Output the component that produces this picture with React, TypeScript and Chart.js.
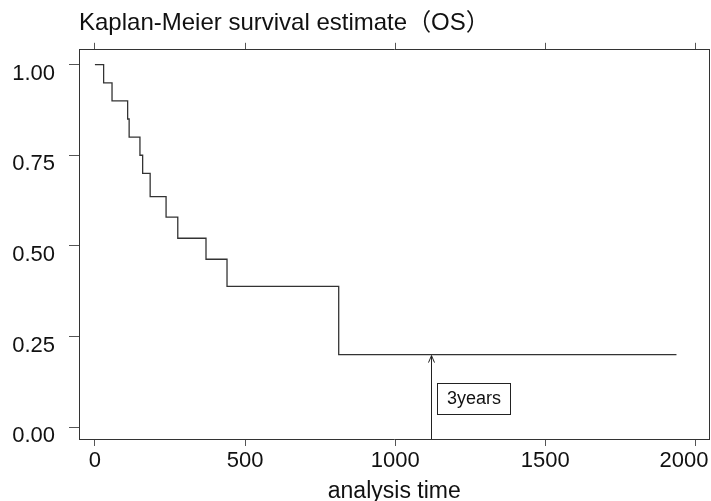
import React, { useEffect, useRef } from 'react';
import { Chart, registerables } from 'chart.js';

Chart.register(...registerables);

// ---- data ----
const TITLE = 'Kaplan-Meier survival estimate（OS）';
const X_TITLE = 'analysis time';
const eventTimes = [0, 29, 57, 109, 114, 150, 159, 184, 237, 276, 370, 440, 812, 1937];
const survival = [1.0, 0.95, 0.9, 0.85, 0.8, 0.75, 0.7, 0.636, 0.579, 0.521, 0.463, 0.388, 0.2, 0.2];
const xTickValues = [0, 500, 1000, 1500, 2000];
const yTickValues = [0, 0.25, 0.5, 0.75, 1];
const MARK_TIME = 1120;
const MARK_SURV = 0.2;
const MARK_LABEL = '3years';
const MARK_LABEL_Y = 0.08;

const X_MIN = -53;
const X_MAX = 2047;
const Y_MIN = -0.033;
const Y_MAX = 1.041;

const FONT = '"Liberation Sans", Arial, "Noto Sans CJK JP", sans-serif';

// keep the last x tick label inside the canvas, as in the reference
const lastLabelPlugin = {
  id: 'lastLabelPlugin',
  beforeDraw(chart: any) {
    const xs = chart.scales.x;
    if (!xs) return;
    const items = xs.getLabelItems(chart.chartArea);
    if (!items || !items.length) return;
    const last = items[items.length - 1];
    last.options.textAlign = 'right';
    last.options.translation[0] = chart.chartArea.right - 1;
  },
};

const markPlugin = {
  id: 'markPlugin',
  afterDatasetsDraw(chart: any) {
    const { ctx, scales, chartArea } = chart;
    const x = scales.x;
    const y = scales.y;
    const px = Math.round(x.getPixelForValue(MARK_TIME)) + 0.5;
    const top = y.getPixelForValue(MARK_SURV);
    const bottom = chartArea.bottom;
    ctx.save();
    ctx.strokeStyle = '#222';
    ctx.lineWidth = 1;
    ctx.beginPath();
    ctx.moveTo(px, bottom);
    ctx.lineTo(px, top + 1);
    ctx.stroke();
    ctx.beginPath();
    ctx.moveTo(px - 3, top + 8);
    ctx.lineTo(px, top + 1);
    ctx.lineTo(px + 3, top + 8);
    ctx.stroke();
    ctx.font = '18px ' + FONT;
    const tw = ctx.measureText(MARK_LABEL).width;
    const cy = y.getPixelForValue(MARK_LABEL_Y);
    const bw = Math.round(tw + 19);
    const bh = 31;
    const bx = Math.round(px + 5) + 0.5;
    const by = Math.round(cy - bh / 2) + 0.5;
    ctx.fillStyle = '#fff';
    ctx.fillRect(bx, by, bw, bh);
    ctx.strokeRect(bx, by, bw, bh);
    ctx.fillStyle = '#111';
    ctx.textAlign = 'center';
    ctx.textBaseline = 'middle';
    ctx.fillText(MARK_LABEL, bx + bw / 2, cy + 1);
    ctx.restore();
  },
};

export default function App() {
  const ref = useRef<HTMLCanvasElement>(null);

  useEffect(() => {
    document.body.style.margin = '0';
    const canvas = ref.current;
    if (!canvas) return;
    const points = eventTimes.map((t, i) => ({ x: t, y: survival[i] }));
    const setXTicks = (scale: any) => {
      scale.ticks = xTickValues.map((v) => ({ value: v }));
    };
    const setYTicks = (scale: any) => {
      scale.ticks = yTickValues.map((v) => ({ value: v }));
    };
    const chart = new Chart(canvas, {
      type: 'line',
      data: {
        datasets: [
          {
            data: points,
            stepped: 'before',
            borderColor: '#333',
            borderWidth: 1.3,
            pointRadius: 0,
            fill: false,
            tension: 0,
          },
        ],
      },
      plugins: [markPlugin, lastLabelPlugin],
      options: {
        responsive: false,
        animation: false,
        events: [],
        layout: { autoPadding: false, padding: { left: 0, right: 1.5, top: 0, bottom: 0 } },
        plugins: {
          legend: { display: false },
          tooltip: { enabled: false },
          title: {
            display: true,
            text: TITLE,
            align: 'start',
            fullSize: false,
            color: '#111',
            font: { family: FONT, size: 24, weight: 'normal' },
            padding: { top: 9, bottom: 5 },
          },
        },
        scales: {
          x: {
            type: 'linear',
            position: 'bottom',
            min: X_MIN,
            max: X_MAX,
            afterBuildTicks: setXTicks,
            afterFit: (scale: any) => {
              scale.height = 62;
              scale.paddingLeft = 0;
              scale.paddingRight = 0;
            },
            grid: { drawOnChartArea: false, drawTicks: true, tickLength: 7, color: '#555' },
            border: { display: true, color: '#333', width: 1 },
            ticks: {
              color: '#111',
              padding: 2,
              maxRotation: 0,
              font: { family: FONT, size: 22 },
              callback: (v: any) => String(v),
            },
            title: {
              display: true,
              text: X_TITLE,
              color: '#111',
              font: { family: FONT, size: 23, lineHeight: 0.8 },
              padding: { top: 0, bottom: 0 },
            },
          },
          xTop: {
            type: 'linear',
            position: 'top',
            min: X_MIN,
            max: X_MAX,
            afterBuildTicks: setXTicks,
            afterFit: (scale: any) => {
              scale.height = 7;
            },
            grid: { drawOnChartArea: false, drawTicks: true, tickLength: 7, color: '#555' },
            border: { display: true, color: '#333', width: 1 },
            ticks: { display: false },
          },
          y: {
            type: 'linear',
            position: 'left',
            min: Y_MIN,
            max: Y_MAX,
            afterBuildTicks: setYTicks,
            afterFit: (scale: any) => {
              scale.width = 79;
              scale.paddingTop = 0;
              scale.paddingBottom = 0;
            },
            grid: { drawOnChartArea: false, drawTicks: true, tickLength: 10, color: '#555' },
            border: { display: true, color: '#333', width: 1 },
            ticks: {
              color: '#111',
              padding: 14,
              labelOffset: 9,
              font: { family: FONT, size: 22 },
              callback: (v: any) => Number(v).toFixed(2),
            },
          },
          yRight: {
            type: 'linear',
            position: 'right',
            min: Y_MIN,
            max: Y_MAX,
            afterFit: (scale: any) => {
              scale.width = 0;
            },
            grid: { drawOnChartArea: false, drawTicks: false },
            border: { display: true, color: '#333', width: 1 },
            ticks: { display: false },
          },
        },
      },
    } as any);
    return () => chart.destroy();
  }, []);

  return (
    <div style={{ width: 711, height: 501 }}>
      <canvas ref={ref} width={711} height={501} style={{ display: 'block' }} />
    </div>
  );
}
